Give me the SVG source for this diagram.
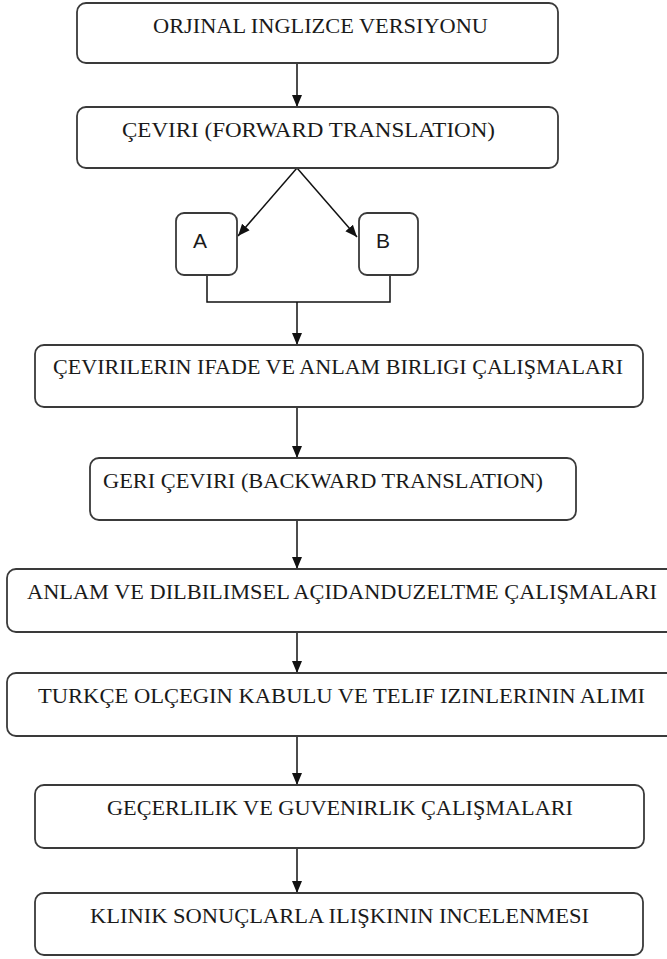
<svg xmlns="http://www.w3.org/2000/svg" width="667" height="959" viewBox="0 0 667 959">
<style>
.box{fill:#ffffff;stroke:#3a3a3a;stroke-width:1.8}
.t{font-family:"Liberation Serif","Times New Roman",serif;font-size:22px;fill:#1a1a1a}
.s{font-family:"Liberation Sans",Arial,sans-serif;font-size:21px;fill:#1a1a1a}
.c{fill:none;stroke:#111;stroke-width:1.5}
</style>
<defs>
<marker id="ah" markerUnits="userSpaceOnUse" markerWidth="12" markerHeight="12" viewBox="0 0 12 10" refX="12" refY="5" orient="auto">
<path d="M0,0 L12,5 L0,10 Z" fill="#111"/>
</marker>
</defs>
<rect width="667" height="959" fill="#ffffff"/>
<g id="connectors">
<line class="c" x1="297" y1="63" x2="297" y2="107" marker-end="url(#ah)"/>
<line class="c" x1="297" y1="168" x2="238" y2="236" marker-end="url(#ah)"/>
<line class="c" x1="297" y1="168" x2="357" y2="237" marker-end="url(#ah)"/>
<polyline class="c" points="207,275 207,302 390,302 390,275"/>
<line class="c" x1="297" y1="302" x2="297" y2="345" marker-end="url(#ah)"/>
<line class="c" x1="297" y1="407" x2="297" y2="458" marker-end="url(#ah)"/>
<line class="c" x1="297" y1="520" x2="297" y2="569" marker-end="url(#ah)"/>
<line class="c" x1="297" y1="632" x2="297" y2="673" marker-end="url(#ah)"/>
<line class="c" x1="297" y1="736" x2="297" y2="785" marker-end="url(#ah)"/>
<line class="c" x1="297" y1="848" x2="297" y2="893" marker-end="url(#ah)"/>
</g>
<g id="n1"><rect class="box" x="77" y="3" width="481" height="60" rx="9"/>
<text class="t" x="153" y="33" textLength="335" lengthAdjust="spacingAndGlyphs">ORJINAL INGLIZCE VERSIYONU</text></g>
<g id="n2"><rect class="box" x="77" y="107" width="481" height="61" rx="9"/>
<text class="t" x="122" y="137" textLength="373" lengthAdjust="spacingAndGlyphs">ÇEVIRI (FORWARD TRANSLATION)</text></g>
<g id="nA"><rect class="box" x="176" y="213" width="61" height="62" rx="8"/>
<text class="s" x="193" y="248">A</text></g>
<g id="nB"><rect class="box" x="359" y="213" width="59" height="62" rx="8"/>
<text class="s" x="376" y="248">B</text></g>
<g id="n3"><rect class="box" x="35" y="345" width="608" height="62" rx="9"/>
<text class="t" x="53" y="374" textLength="570" lengthAdjust="spacingAndGlyphs">ÇEVIRILERIN IFADE VE ANLAM BIRLIGI ÇALIŞMALARI</text></g>
<g id="n4"><rect class="box" x="90" y="458" width="486" height="62" rx="9"/>
<text class="t" x="103" y="488" textLength="440" lengthAdjust="spacingAndGlyphs">GERI ÇEVIRI (BACKWARD TRANSLATION)</text></g>
<g id="n5"><rect class="box" x="7" y="569" width="670" height="63" rx="9"/>
<text class="t" x="27" y="599" textLength="630" lengthAdjust="spacingAndGlyphs">ANLAM VE DILBILIMSEL AÇIDANDUZELTME ÇALIŞMALARI</text></g>
<g id="n6"><rect class="box" x="7" y="673" width="670" height="63" rx="9"/>
<text class="t" x="38" y="703" textLength="607" lengthAdjust="spacingAndGlyphs">TURKÇE OLÇEGIN KABULU VE TELIF IZINLERININ ALIMI</text></g>
<g id="n7"><rect class="box" x="35" y="785" width="609" height="63" rx="9"/>
<text class="t" x="107" y="815" textLength="466" lengthAdjust="spacingAndGlyphs">GEÇERLILIK VE GUVENIRLIK ÇALIŞMALARI</text></g>
<g id="n8"><rect class="box" x="35" y="893" width="608" height="62" rx="9"/>
<text class="t" x="90" y="923" textLength="499" lengthAdjust="spacingAndGlyphs">KLINIK SONUÇLARLA ILIŞKININ INCELENMESI</text></g>
</svg>
